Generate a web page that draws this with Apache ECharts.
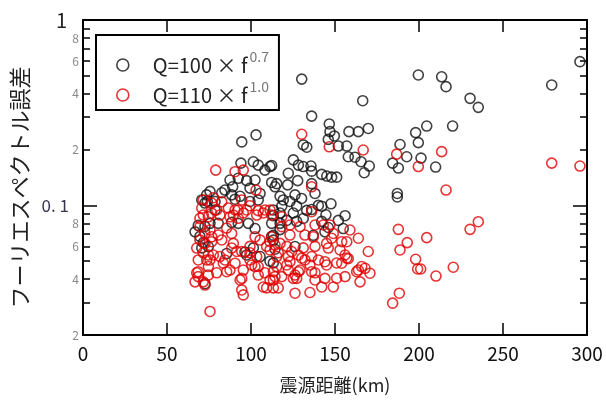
<!DOCTYPE html>
<html>
<head>
<meta charset="utf-8">
<script src="https://cdn.jsdelivr.net/npm/echarts@6/dist/echarts.min.js"></script>
<style>
html,body{margin:0;padding:0;background:#fff;}
#chart{width:606px;height:401px;}
</style>
</head>
<body>
<div id="chart"></div>
<script>
// ---- data ----
const seriesNames = ['Q=100×f^0.7', 'Q=110×f^1.0'];
const legendMain = ['Q=100 × f', 'Q=110 × f'];
const legendSup = ['0.7', '1.0'];
const xTickValues = [0, 50, 100, 150, 200, 250, 300];
const yLabelValues = [0.02, 0.04, 0.06, 0.08, 0.1, 0.2, 0.4, 0.6, 0.8, 1];
const yMinorTickValues = [0.02, 0.03, 0.04, 0.05, 0.06, 0.07, 0.08, 0.09, 0.2, 0.3, 0.4, 0.5, 0.6, 0.7, 0.8, 0.9];
const yMajorTickValues = [0.1, 1];

const blackDist = [130.2,199.6,213.5,216.1,279,295.8,230.4,235.3,166.5,136.1,
146.6,147,149.6,146,158.3,163.9,169.8,131.1,133.2,152,
157,157.9,161.9,165.5,170.4,167.4,125.2,128.2,131.1,135.7,
136.1,122.2,142.1,145.1,148,151,115.3,121.8,127.8,138.1,
117.3,119.2,126.2,118.3,127.2,136.1,142.1,147.6,198,204.6,
220,199.6,188.7,192.7,201.2,184.3,187.7,209.9,187.1,187.1,
112.3,136.1,130.1,113.3,125.2,131.1,127.2,144.6,156,152,
154.9,117.3,113.3,117.3,114.3,126.2,137.1,144,142.1,123.2,
133.2,140.1,121.3,146,103,94.5,94,101.4,104.3,108.3,
111.3,87.5,92.4,97.4,102.4,99.4,112.3,114.3,84.5,89.1,
82.6,75.6,78.6,74,88.5,90.5,93.5,105.4,104.3,99.4,
73.6,70.7,72.6,78.6,80.5,88.5,92.4,98.4,102.4,112.3,
113.3,68.6,66.7,69.6,72.6,75.6,71.6,74.6,70.7,85.5,
96.4,101.4,97.4,105.4,111.3,113.3,72.6,112.3,117.3,113.3];
const blackErr = [0.48,0.505,0.494,0.437,0.446,0.596,0.378,0.338,0.367,0.303,
0.275,0.25,0.237,0.227,0.25,0.25,0.26,0.212,0.206,0.209,
0.209,0.183,0.182,0.172,0.163,0.15,0.176,0.165,0.162,0.163,
0.153,0.149,0.147,0.144,0.142,0.142,0.131,0.129,0.136,0.116,
0.112,0.107,0.114,0.099,0.099,0.095,0.099,0.102,0.247,0.268,
0.268,0.218,0.213,0.183,0.18,0.169,0.159,0.161,0.116,0.111,
0.164,0.131,0.109,0.088,0.091,0.085,0.082,0.089,0.088,0.083,
0.075,0.091,0.065,0.074,0.058,0.06,0.069,0.072,0.082,0.105,
0.094,0.1,0.083,0.076,0.24,0.22,0.169,0.172,0.165,0.155,
0.162,0.137,0.14,0.136,0.137,0.124,0.133,0.126,0.121,0.126,
0.117,0.119,0.105,0.105,0.114,0.108,0.112,0.116,0.107,0.105,
0.114,0.107,0.103,0.0945,0.08,0.081,0.08,0.08,0.075,0.08,
0.069,0.078,0.072,0.068,0.077,0.08,0.063,0.06,0.059,0.055,
0.056,0.059,0.054,0.053,0.05,0.049,0.0378,0.068,0.08,0.0945];

const redDist = [130.2,146.6,166.8,186.7,213.5,199.6,279,295.8,216.1,187.7,
235.3,230.4,204.6,193,188.7,198,199.2,201,220.4,210.1,
188.3,184.3,136.1,136.1,147,158.9,163.9,169.8,157,157,
151,145,144,153,145,148,138.1,136.1,131.1,130.2,
135.1,138.1,165.9,167.9,170.8,163.9,156,151,164.9,142.1,
149,135.1,126.2,126.2,125.2,128.2,123.2,121.3,113.3,113.3,
118.3,115.3,115.3,123.2,124.2,118.3,118.3,132.1,112.3,111.3,
123.2,129.2,138.1,143,149,154,137.1,146,156,157.9,
117.3,121.3,116.2,122.2,128.2,132.1,140.1,154,122.2,129.2,
127.2,136.1,138.1,144,162.9,116.2,79,90.5,95.4,94.5,
92.4,97.4,71.6,76.6,86.5,90.5,70.7,69.6,74.6,76.6,
79.6,81.5,69.6,75.6,76.6,80.5,85.5,88.5,89.5,88.5,
91.5,67.7,68.6,73.6,77.6,81.5,83.5,85.5,79.6,74.6,
100.4,104.3,95.4,94.5,108.3,111.3,114.3,109.3,67.7,74.6,
71.6,95.4,75.6,99.4,104.3,108.3,111.3,87.5,92.4,103,
77.6,82.6,71.6,89.5,95.4,103.4,107.3,112.3,72.6,69.6,
72.6,76.6,82.6,99.4,102.4,105.4,71.6,74.6,94.5,99.4,
111.3,114.3,109.3,75.6,84.5,90.5,99.4,103.4,68.6,87.5,
102.4,113.3,68.6,104.3,66.7,72.6,93.5,107.3,94.5];
const redErr = [0.242,0.207,0.199,0.189,0.195,0.162,0.169,0.163,0.121,0.0743,
0.0817,0.0743,0.067,0.063,0.0575,0.0512,0.0454,0.0454,0.0464,0.0416,
0.0336,0.0297,0.126,0.0925,0.0784,0.0737,0.0665,0.0564,0.0637,0.052,
0.0489,0.0477,0.0497,0.0575,0.0624,0.0665,0.0601,0.053,0.059,0.0519,
0.0477,0.0433,0.0468,0.0458,0.0431,0.0448,0.0413,0.0405,0.0387,0.0363,
0.0363,0.0339,0.0336,0.0421,0.0404,0.0439,0.0497,0.0477,0.0396,0.0359,
0.0413,0.053,0.0468,0.0692,0.0564,0.0868,0.0768,0.0692,0.0677,0.0575,
0.0784,0.0768,0.0784,0.0784,0.0706,0.0637,0.0677,0.0589,0.054,0.0516,
0.0624,0.0601,0.0555,0.053,0.054,0.0508,0.0508,0.0488,0.0448,0.0448,
0.0404,0.0439,0.0396,0.0404,0.0439,0.0359,0.155,0.152,0.155,0.107,
0.0945,0.0945,0.107,0.103,0.0968,0.0945,0.0968,0.0852,0.0868,0.0908,
0.0945,0.0887,0.0768,0.0737,0.0677,0.0692,0.0755,0.0706,0.0624,0.0589,
0.0564,0.0589,0.0508,0.0508,0.054,0.053,0.0488,0.0439,0.0433,0.0468,
0.0477,0.0468,0.0448,0.0404,0.0433,0.0396,0.0413,0.0359,0.0433,0.0421,
0.0387,0.0329,0.0268,0.0996,0.0937,0.0945,0.0945,0.0868,0.0852,0.121,
0.11,0.1047,0.0887,0.0887,0.091,0.0887,0.091,0.0887,0.0706,0.0651,
0.0624,0.0637,0.0651,0.0601,0.0677,0.0651,0.0555,0.054,0.0564,0.0555,
0.0637,0.0611,0.0601,0.0508,0.0508,0.0488,0.0508,0.053,0.0439,0.0448,
0.0468,0.0439,0.0413,0.0421,0.0387,0.0372,0.0396,0.0363,0.035];

// ---- chart ----
const FONT = '"Noto Sans CJK JP", "Noto Sans", sans-serif';
const BLACK = '#111111';
const RED = '#e00000';
const chart = echarts.init(document.getElementById('chart'), null, {renderer: 'canvas'});

function pairs(xs, ys) { return xs.map((x, i) => [x, ys[i]]); }

function yLabelFmt(v) {
  const e = Math.floor(Math.log10(v) + 1e-9);
  const d = Math.round(v / Math.pow(10, e));
  if (Math.abs(v - 1) < 1e-9) return '{big|1}';
  if (Math.abs(v - 0.1) < 1e-9) return '{mid|0. 1}';
  return '{small|' + d + '}';
}

const yBase = {type: 'log', logBase: 10, min: 0.02, max: 1, splitLine: {show: false}};
const xBase = {type: 'value', min: 0, max: 300, interval: 50, splitLine: {show: false}};

const option = {
  animation: false,
  backgroundColor: '#ffffff',
  grid: {left: 83, right: 19, top: 20, bottom: 66, containLabel: false},
  xAxis: [
    Object.assign({}, xBase, {
      position: 'bottom',
      axisLine: {show: true, onZero: false, lineStyle: {color: '#000', width: 2}},
      axisTick: {show: true, inside: true, length: 12, lineStyle: {color: '#000', width: 1.5}},
      axisLabel: {show: true, color: '#111', fontSize: 19, fontFamily: FONT, margin: 9,
        customValues: xTickValues},
      name: '震源距離(km)', nameLocation: 'middle', nameGap: 41,
      nameTextStyle: {color: '#222', fontSize: 18, fontFamily: FONT}
    }),
    Object.assign({}, xBase, {
      position: 'top',
      axisLine: {show: true, onZero: false, lineStyle: {color: '#000', width: 2}},
      axisTick: {show: true, inside: true, length: 12, lineStyle: {color: '#000', width: 1.5}},
      axisLabel: {show: false}
    })
  ],
  yAxis: [
    Object.assign({}, yBase, {
      position: 'left',
      axisLine: {show: true, lineStyle: {color: '#000', width: 2}},
      axisTick: {show: true, inside: true, length: 7, customValues: yMinorTickValues,
        lineStyle: {color: '#000', width: 1.5}},
      axisLabel: {show: true, customValues: yLabelValues, formatter: yLabelFmt, margin: 4,
        rich: {
          big: {fontSize: 20, color: '#222', fontFamily: FONT, padding: [0, 12, 0, 0]},
          mid: {fontSize: 17, color: '#3a3350', fontFamily: FONT, padding: [0, 10, 0, 0]},
          small: {fontSize: 12, color: '#888', fontFamily: FONT}
        }},
      name: 'フーリエスペクトル誤差', nameLocation: 'middle', nameGap: 43, nameRotate: 90,
      nameTextStyle: {color: '#222', fontSize: 22, fontFamily: FONT, padding: [0, 20, 0, 0]}
    }),
    Object.assign({}, yBase, {
      position: 'left',
      axisLine: {show: false},
      axisTick: {show: true, inside: true, length: 14, customValues: yMajorTickValues,
        lineStyle: {color: '#000', width: 1.5}},
      axisLabel: {show: false}
    }),
    Object.assign({}, yBase, {
      position: 'right',
      axisLine: {show: true, lineStyle: {color: '#000', width: 2}},
      axisTick: {show: true, inside: true, length: 7, customValues: yMinorTickValues,
        lineStyle: {color: '#000', width: 1.5}},
      axisLabel: {show: false}
    }),
    Object.assign({}, yBase, {
      position: 'right',
      axisLine: {show: false},
      axisTick: {show: true, inside: true, length: 14, customValues: yMajorTickValues,
        lineStyle: {color: '#000', width: 1.5}},
      axisLabel: {show: false}
    })
  ],
  legend: {
    left: 96, top: 35, orient: 'vertical',
    padding: [15, 10, 0, 20],
    itemGap: 0, itemWidth: 50, itemHeight: 12,
    borderColor: '#000', borderWidth: 2, backgroundColor: '#fff',
    selectedMode: false,
    data: [
      {name: seriesNames[0], icon: 'circle', itemStyle: {color: 'rgba(0,0,0,0)', borderColor: BLACK, borderWidth: 1.6}},
      {name: seriesNames[1], icon: 'circle', itemStyle: {color: 'rgba(0,0,0,0)', borderColor: RED, borderWidth: 1.6}}
    ],
    formatter: function (name) {
      const i = seriesNames.indexOf(name);
      return '{m|' + legendMain[i] + '}{s|' + legendSup[i] + '}';
    },
    textStyle: {
      fontFamily: FONT, lineHeight: 30,
      rich: {
        m: {fontSize: 20, color: '#222', fontFamily: FONT, lineHeight: 30, verticalAlign: 'middle'},
        s: {fontSize: 14, color: '#777', fontFamily: FONT, lineHeight: 2, verticalAlign: 'top', padding: [0, 0, 0, 2]}
      }
    }
  },
  series: [
    {
      name: seriesNames[0], type: 'scatter', xAxisIndex: 0, yAxisIndex: 0,
      symbol: 'circle', symbolSize: 10,
      itemStyle: {color: 'rgba(0,0,0,0)', borderColor: BLACK, borderWidth: 1.6},
      emphasis: {disabled: true},
      data: pairs(blackDist, blackErr)
    },
    {
      name: seriesNames[1], type: 'scatter', xAxisIndex: 0, yAxisIndex: 0,
      symbol: 'circle', symbolSize: 10,
      itemStyle: {color: 'rgba(0,0,0,0)', borderColor: RED, borderWidth: 1.6},
      emphasis: {disabled: true},
      data: pairs(redDist, redErr)
    }
  ]
};
chart.setOption(option);
</script>
</body>
</html>
